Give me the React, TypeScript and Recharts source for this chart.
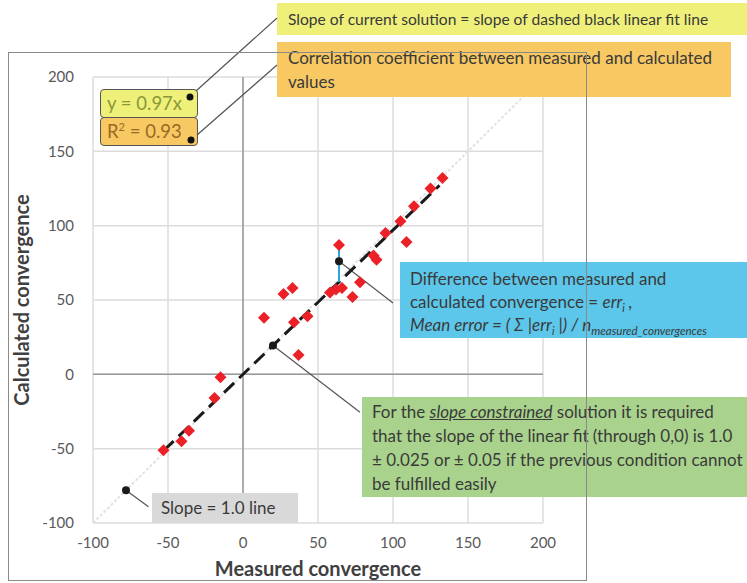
import React from 'react';
import {
  ScatterChart,
  Scatter,
  XAxis,
  YAxis,
  CartesianGrid,
  ReferenceLine
} from 'recharts';

// axis ticks (both axes share the same range)
const axisTicks = [-100, -50, 0, 50, 100, 150, 200];

// measured vs calculated convergences (red diamonds)
const measured = [-53, -41, -36, -19, -15, 14, 27, 33, 34, 37, 43, 58, 62, 64, 66, 73, 78, 87, 89, 95, 105, 109, 114, 125, 133];
const calculated = [-51, -45, -38, -16, -2, 38, 54, 58, 35, 13, 39, 55, 57, 87, 58, 52, 62, 80, 77, 95, 103, 89, 113, 125, 132];

// linear fit through 0,0 and the slope = 1.0 reference line
const fitSlope = 0.97;
const fitRange = [-53, 131];
const unitRange = [-100, 200];

// error segment for one measurement
const errX = 64;
const errMeasured = 87;

// black marker dots and where their leader lines end
const markerX = [-78, 20, 64];
const markerY = [-78, 19.4, 76];
const leaderEndX = [-63, 78, 100];
const leaderEndY = [-89, -25.5, 48];

const points = measured.map((x, i) => ({ x, y: calculated[i] }));
const markers = markerX.map((x, i) => ({ x, y: markerY[i] }));

const Diamond = (props: any) => {
  const { cx, cy } = props;
  const r = 6;
  return (
    <path
      d={`M${cx},${cy - r}L${cx + r},${cy}L${cx},${cy + r}L${cx - r},${cy}Z`}
      fill="#ec2027"
    />
  );
};

const Dot = (props: any) => <circle cx={props.cx} cy={props.cy} r={4} fill="#1a1a1a" />;

const font = 'Lato, "Open Sans", sans-serif';
const textColor = '#3a3a3a';

const boxBase: React.CSSProperties = {
  position: 'absolute',
  boxSizing: 'border-box',
  fontSize: 17,
  color: textColor,
  whiteSpace: 'nowrap',
  lineHeight: '24px',
};

const subStyle: React.CSSProperties = { fontSize: 11, lineHeight: 0 };

const App: React.FC = () => {
  return (
    <div
      style={{
        position: 'absolute',
        left: 0,
        top: 0,
        width: 747,
        height: 583,
        background: '#fff',
        fontFamily: font,
        overflow: 'hidden',
      }}
    >
      <ScatterChart width={747} height={583} margin={{ top: 77, right: 204, bottom: 0, left: 0 }}>
        <CartesianGrid stroke="#dcdcdc" strokeWidth={1.5} />
        <XAxis
          type="number"
          dataKey="x"
          domain={[-100, 200]}
          ticks={axisTicks}
          height={60}
          axisLine={false}
          tickLine={false}
          tickSize={0}
          tickMargin={14}
          tick={{ fill: '#595959', fontSize: 15, fontFamily: font }}
        />
        <YAxis
          type="number"
          dataKey="y"
          domain={[-100, 200]}
          ticks={axisTicks}
          width={93}
          axisLine={false}
          tickLine={false}
          tickSize={0}
          tickMargin={19}
          tick={{ fill: '#595959', fontSize: 15, fontFamily: font }}
        />
        <ReferenceLine x={0} stroke="#999" strokeWidth={1.5} />
        <ReferenceLine y={0} stroke="#999" strokeWidth={1.5} />
        <ReferenceLine
          segment={[
            { x: unitRange[0], y: unitRange[0] },
            { x: unitRange[1], y: unitRange[1] },
          ]}
          stroke="#e2e2e2"
          strokeWidth={2}
          strokeDasharray="3 2"
        />
        {markers.map((m, i) => (
          <ReferenceLine
            key={i}
            segment={[
              { x: m.x, y: m.y },
              { x: leaderEndX[i], y: leaderEndY[i] },
            ]}
            stroke="#555"
            strokeWidth={1.2}
          />
        ))}
        <Scatter data={points} shape={<Diamond />} isAnimationActive={false} />
        <ReferenceLine
          segment={[
            { x: fitRange[0], y: fitRange[0] * fitSlope },
            { x: fitRange[1], y: fitRange[1] * fitSlope },
          ]}
          stroke="#1a1a1a"
          strokeWidth={3}
          strokeDasharray="14 7"
        />
        <ReferenceLine
          segment={[
            { x: errX, y: errMeasured },
            { x: errX, y: errX * fitSlope },
          ]}
          stroke="#29a8e0"
          strokeWidth={2}
        />
        <Scatter data={markers} shape={<Dot />} isAnimationActive={false} />
      </ScatterChart>

      {/* equation labels */}
      <div
        style={{
          ...boxBase,
          left: 100,
          top: 89,
          width: 98,
          height: 29,
          background: '#eef07a',
          border: '1px solid #555',
          borderRadius: 4,
          color: '#8a9838',
          fontSize: 18.5,
          lineHeight: '27px',
          paddingLeft: 6,
        }}
      >
        y = 0.97x
      </div>
      <div
        style={{
          ...boxBase,
          left: 100,
          top: 117,
          width: 98,
          height: 29,
          background: '#f8c862',
          border: '1px solid #555',
          borderRadius: 4,
          color: '#9a6a26',
          fontSize: 18.5,
          lineHeight: '27px',
          paddingLeft: 6,
        }}
      >
        R<sup style={{ fontSize: 11, lineHeight: 0 }}>2</sup> = 0.93
      </div>

      {/* callouts */}
      <div style={{ ...boxBase, left: 277, top: 3, width: 470, height: 32, background: '#eef07a', paddingLeft: 11, lineHeight: '32px', fontSize: 15.6 }}>
        Slope of current solution = slope of dashed black linear fit line
      </div>
      <div style={{ ...boxBase, left: 277, top: 42, width: 454, height: 55, background: '#f8c862', paddingLeft: 11, paddingTop: 4 }}>
        Correlation coefficient between measured and calculated
        <br />
        values
      </div>
      <div style={{ ...boxBase, left: 400, top: 262, width: 347, height: 76, background: '#5cc7ea', paddingLeft: 10, paddingTop: 5, lineHeight: '23px' }}>
        Difference between measured and
        <br />
        calculated convergence = <i>err<sub style={subStyle}>i</sub> ,</i>
        <br />
        <i>
          Mean error = ( Σ |err<sub style={subStyle}>i</sub> |) / n<sub style={{ fontSize: 11.5, lineHeight: 0 }}>measured_convergences</sub>
        </i>
      </div>
      <div style={{ ...boxBase, left: 362, top: 397, width: 385, height: 100, background: '#a9d38c', paddingLeft: 10, paddingTop: 3 }}>
        For the <i><u>slope constrained</u></i> solution it is required
        <br />
        that the slope of the linear fit (through 0,0) is 1.0
        <br />
        ± 0.025 or ± 0.05 if the previous condition cannot
        <br />
        be fulfilled easily
      </div>
      <div style={{ ...boxBase, left: 152, top: 493, width: 146, height: 30, background: '#d9d9d9', paddingLeft: 9, lineHeight: '30px' }}>
        Slope = 1.0 line
      </div>

      {/* leader lines, dots and axis titles */}
      <svg width={747} height={583} style={{ position: 'absolute', left: 0, top: 0, pointerEvents: 'none' }}>
        <line x1={196} y1={91} x2={277} y2={18} stroke="#555" strokeWidth={1.2} />
        <line x1={197} y1={135} x2={277} y2={65} stroke="#555" strokeWidth={1.2} />
        <circle cx={190} cy={97} r={3.5} fill="#111" />
        <circle cx={191} cy={140} r={3.5} fill="#111" />
        <text x={318} y={576} textAnchor="middle" fontSize={20} fontWeight="bold" fill="#404040" fontFamily={font}>
          Measured convergence
        </text>
        <text
          x={0}
          y={0}
          transform="translate(29,300) rotate(-90)"
          textAnchor="middle"
          fontSize={20}
          fontWeight="bold"
          fill="#404040"
          fontFamily={font}
        >
          Calculated convergence
        </text>
      </svg>

      {/* outer chart border */}
      <div
        style={{
          position: 'absolute',
          left: 8,
          top: 52,
          width: 579,
          height: 529,
          border: '1px solid #8a8a8a',
          boxSizing: 'border-box',
          pointerEvents: 'none',
        }}
      />
    </div>
  );
};

export default App;
